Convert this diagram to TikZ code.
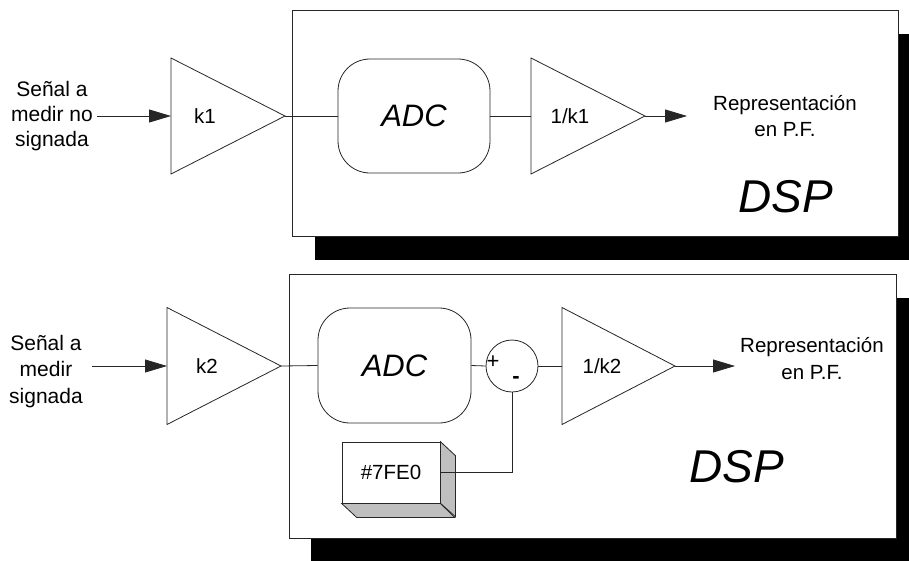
\documentclass[tikz,border=0pt]{standalone}
\usepackage{fontspec}
\setmainfont{Liberation Sans}
\usetikzlibrary{arrows.meta}
\begin{document}
\begin{tikzpicture}[x=1pt,y=-1pt,
  ln/.style={line width=0.8pt, draw=black!85},
  arr/.style={ln, -{Triangle[length=22pt,width=13pt]}},
  txt/.style={font=\fontsize{20.5}{25}\selectfont, inner sep=0pt, align=center},
  bigtxt/.style={font=\fontsize{31}{36}\selectfont\itshape, inner sep=0pt},
  hugetxt/.style={font=\fontsize{46}{52}\selectfont\itshape, inner sep=0pt},
  adcbox/.style={ln, rounded corners=32pt, minimum width=152pt, minimum height=114pt, bigtxt},
  shadowbox/.style={fill=black},
  dspbox/.style={ln, fill=white},
  faces/.style={ln, fill=black!25}]
\useasboundingbox (0,0) rectangle (909,560);

% ---------------- top diagram ----------------
\fill[shadowbox] (315,34) rectangle (930,260);
\draw[dspbox] (292,10) rectangle (898,236);

\node[txt, font=\fontsize{21}{25}\selectfont] (src1) at (52,116) {Señal a\\medir no\\signada};
\coordinate (in1) at (97,116);

\draw[ln] (171,58) -- (285,116) -- (171,174) -- cycle;
\coordinate (k1in) at (171,116);
\coordinate (k1out) at (285,116);
\node[txt] (k1) at (205,116) {k1};

\node[draw, adcbox] (adc1) at (414,116) {ADC};

\draw[ln] (531,58) -- (645,116) -- (531,174) -- cycle;
\coordinate (g1in) at (531,116);
\coordinate (g1out) at (645,116);
\node[txt] (g1) at (570,116) {1/k1};

\coordinate (out1) at (687,116);
\node[txt, font=\fontsize{20.5}{26}\selectfont] (rep1) at (785,116.5) {Representación\\en P.F.};
\node[hugetxt] (dsp1) at (786,197) {DSP};

\draw[arr] (in1) -- (k1in);
\draw[ln] (k1out) -- (adc1.west);
\draw[ln] (adc1.east) -- (g1in);
\draw[arr] (g1out) -- (out1);

% ---------------- bottom diagram ----------------
\fill[shadowbox] (311,298) rectangle (930,570);
\draw[dspbox] (289,274) rectangle (896,538);

\node[txt, font=\fontsize{21}{26.5}\selectfont] (src2) at (46,371.5) {Señal a\\medir\\signada};
\coordinate (in2) at (92,366);

\draw[ln] (167,307.5) -- (281,366) -- (167,424.5) -- cycle;
\coordinate (k2in) at (167,366);
\coordinate (k2out) at (281,366);
\node[txt] (k2) at (207,366) {k2};

\node[draw, adcbox, minimum width=153pt, minimum height=115pt] (adc2) at (394.5,365.5) {ADC};

\node[draw, ln, circle, minimum size=52pt, inner sep=0pt] (sum) at (512,366) {};
\node[txt, font=\fontsize{22}{25}\selectfont] (plus) at (493,362) {+};
\node[txt, font=\fontsize{22}{25}\selectfont\bfseries] (minus) at (516,380) {-};

\draw[ln] (562,307.5) -- (675,366) -- (562,424.5) -- cycle;
\coordinate (g2in) at (562,366);
\coordinate (g2out) at (675,366);
\node[txt] (g2) at (602,366) {1/k2};

\coordinate (out2) at (735,366);
\node[txt, font=\fontsize{20.5}{26.5}\selectfont] (rep2) at (812,358.5) {Representación\\en P.F.};
\node[hugetxt] (dsp2) at (737,467) {DSP};

% constant block (3D box)
\node[draw, ln, fill=white, minimum width=98pt, minimum height=61pt, inner sep=0pt, txt] (cst) at (391,472.5) {\#7FE0};
\draw[faces] (cst.north east) -- ++(15,14) -- ++(0,61) -- (cst.south east) -- cycle;
\draw[faces] (cst.south west) -- ++(15,14) -- ++(98,0) -- (cst.south east) -- cycle;

\draw[arr] (in2) -- (k2in);
\draw[ln] (k2out) -- (adc2.west);
\draw[ln] (adc2.east) -- (sum.west);
\draw[ln] (sum.east) -- (g2in);
\draw[arr] (g2out) -- (out2);
\draw[ln] (cst.east) -| (sum.south);
\end{tikzpicture}
\end{document}
